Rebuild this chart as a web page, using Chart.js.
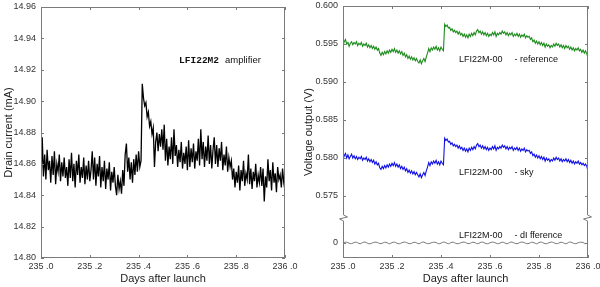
<!DOCTYPE html>
<html>
<head>
<meta charset="utf-8">
<script src="https://cdn.jsdelivr.net/npm/chart.js@4.4.0/dist/chart.umd.min.js"></script>
<style>
  html, body { margin: 0; padding: 0; background: #fff; }
  #wrap { display: flex; width: 600px; height: 287px; }
  .box { position: relative; width: 300px; height: 287px; }
</style>
</head>
<body>
<div id="wrap">
  <div class="box"><canvas id="left" width="300" height="287"></canvas></div>
  <div class="box"><canvas id="right" width="300" height="287"></canvas></div>
</div>
<script>
// sampling of the time axis (days after launch)
const dayStart = 235.0
const dayStep = 0.005
const diffStep = 0.01

// left panel: drain current, mA
const drainCurrent = [
  14.846, 14.877, 14.852, 14.866, 14.850, 14.869, 14.856, 14.862, 14.848, 14.865, 14.853, 14.868, 14.847, 14.860, 14.855, 14.866, 14.849, 14.861, 14.852, 14.864, 14.851,
  14.858, 14.846, 14.863, 14.851, 14.867, 14.849, 14.860, 14.845, 14.862, 14.853, 14.866, 14.848, 14.858, 14.851, 14.864, 14.847, 14.859, 14.850, 14.862, 14.849,
  14.856, 14.868, 14.850, 14.864, 14.846, 14.860, 14.852, 14.865, 14.845, 14.858, 14.849, 14.862, 14.844, 14.857, 14.850, 14.861, 14.843, 14.855, 14.848, 14.858,
  14.846, 14.840, 14.853, 14.844, 14.849, 14.841, 14.856, 14.846, 14.866, 14.873, 14.855, 14.864, 14.850, 14.861, 14.848, 14.863, 14.853, 14.866, 14.855, 14.868,
  14.858, 14.862, 14.911, 14.902, 14.897, 14.899, 14.890, 14.893, 14.884, 14.887, 14.879, 14.883, 14.858, 14.874, 14.880, 14.868, 14.879, 14.871, 14.882, 14.869,
  14.885, 14.862, 14.876, 14.859, 14.871, 14.863, 14.877, 14.860, 14.882, 14.865, 14.872, 14.858, 14.869, 14.861, 14.874, 14.857, 14.867, 14.860, 14.871, 14.856,
  14.875, 14.858, 14.870, 14.861, 14.873, 14.857, 14.868, 14.862, 14.876, 14.859, 14.882, 14.863, 14.874, 14.858, 14.871, 14.862, 14.878, 14.860, 14.872, 14.857,
  14.869, 14.877, 14.860, 14.872, 14.858, 14.870, 14.862, 14.874, 14.856, 14.866, 14.859, 14.871, 14.855, 14.864, 14.858, 14.862, 14.850, 14.857, 14.845, 14.855,
  14.848, 14.859, 14.843, 14.856, 14.849, 14.862, 14.846, 14.854, 14.850, 14.866, 14.847, 14.857, 14.844, 14.855, 14.849, 14.860, 14.845, 14.853, 14.848, 14.858,
  14.846, 14.857, 14.836, 14.852, 14.845, 14.863, 14.849, 14.856, 14.843, 14.861, 14.848, 14.854, 14.842, 14.858, 14.850, 14.853, 14.845, 14.857, 14.848, 14.843
]

// right panel: voltage output, V
const referenceVolts = [
  0.5948, 0.5953, 0.5956, 0.5950, 0.5952, 0.5947, 0.5951, 0.5953, 0.5949, 0.5952, 0.5950, 0.5953, 0.5948, 0.5951, 0.5949, 0.5952, 0.5947, 0.5950, 0.5948, 0.5951, 0.5946,
  0.5949, 0.5945, 0.5948, 0.5944, 0.5947, 0.5943, 0.5946, 0.5942, 0.5944, 0.5938, 0.5935, 0.5939, 0.5936, 0.5940, 0.5937, 0.5941, 0.5938, 0.5942, 0.5939, 0.5943,
  0.5940, 0.5944, 0.5939, 0.5942, 0.5938, 0.5941, 0.5937, 0.5940, 0.5935, 0.5938, 0.5933, 0.5936, 0.5931, 0.5934, 0.5930, 0.5933, 0.5929, 0.5932, 0.5928, 0.5931,
  0.5927, 0.5925, 0.5929, 0.5924, 0.5928, 0.5931, 0.5927, 0.5933, 0.5938, 0.5944, 0.5940, 0.5945, 0.5942, 0.5946, 0.5943, 0.5947, 0.5942, 0.5945, 0.5941, 0.5946,
  0.5943, 0.5941, 0.5976, 0.5973, 0.5975, 0.5971, 0.5972, 0.5968, 0.5970, 0.5966, 0.5968, 0.5965, 0.5967, 0.5963, 0.5966, 0.5962, 0.5964, 0.5960, 0.5963, 0.5959,
  0.5962, 0.5958, 0.5963, 0.5960, 0.5964, 0.5961, 0.5965, 0.5962, 0.5967, 0.5969, 0.5965, 0.5967, 0.5963, 0.5966, 0.5962, 0.5965, 0.5961, 0.5964, 0.5960, 0.5963,
  0.5961, 0.5965, 0.5962, 0.5966, 0.5960, 0.5964, 0.5962, 0.5965, 0.5963, 0.5967, 0.5964, 0.5966, 0.5962, 0.5965, 0.5961, 0.5964, 0.5962, 0.5965, 0.5960, 0.5963,
  0.5961, 0.5964, 0.5960, 0.5963, 0.5959, 0.5962, 0.5960, 0.5963, 0.5958, 0.5961, 0.5959, 0.5960, 0.5956, 0.5958, 0.5953, 0.5955, 0.5951, 0.5954, 0.5950, 0.5953,
  0.5949, 0.5952, 0.5948, 0.5951, 0.5946, 0.5950, 0.5947, 0.5949, 0.5945, 0.5948, 0.5946, 0.5950, 0.5947, 0.5951, 0.5948, 0.5950, 0.5946, 0.5949, 0.5945, 0.5948,
  0.5944, 0.5948, 0.5945, 0.5947, 0.5943, 0.5946, 0.5942, 0.5945, 0.5941, 0.5944, 0.5942, 0.5945, 0.5941, 0.5943, 0.5939, 0.5942, 0.5938, 0.5941, 0.5937, 0.5932
]

const skyVolts = [
  0.5798, 0.5803, 0.5806, 0.5800, 0.5804, 0.5799, 0.5802, 0.5805, 0.5800, 0.5803, 0.5799, 0.5802, 0.5798, 0.5801, 0.5799, 0.5802, 0.5797, 0.5800, 0.5798, 0.5801, 0.5796,
  0.5799, 0.5795, 0.5798, 0.5794, 0.5797, 0.5792, 0.5795, 0.5791, 0.5793, 0.5787, 0.5785, 0.5789, 0.5786, 0.5790, 0.5787, 0.5791, 0.5788, 0.5792, 0.5789, 0.5793,
  0.5790, 0.5794, 0.5789, 0.5792, 0.5788, 0.5791, 0.5786, 0.5789, 0.5785, 0.5788, 0.5783, 0.5786, 0.5781, 0.5784, 0.5780, 0.5783, 0.5779, 0.5782, 0.5778, 0.5781,
  0.5778, 0.5775, 0.5779, 0.5774, 0.5778, 0.5781, 0.5777, 0.5783, 0.5788, 0.5794, 0.5790, 0.5795, 0.5792, 0.5796, 0.5793, 0.5797, 0.5792, 0.5795, 0.5791, 0.5796,
  0.5793, 0.5791, 0.5826, 0.5823, 0.5825, 0.5821, 0.5822, 0.5818, 0.5820, 0.5816, 0.5818, 0.5815, 0.5817, 0.5813, 0.5816, 0.5812, 0.5814, 0.5810, 0.5813, 0.5809,
  0.5812, 0.5808, 0.5813, 0.5810, 0.5814, 0.5811, 0.5815, 0.5812, 0.5817, 0.5819, 0.5815, 0.5817, 0.5813, 0.5816, 0.5812, 0.5815, 0.5811, 0.5814, 0.5810, 0.5813,
  0.5811, 0.5815, 0.5812, 0.5816, 0.5810, 0.5814, 0.5812, 0.5815, 0.5813, 0.5817, 0.5814, 0.5816, 0.5812, 0.5815, 0.5811, 0.5814, 0.5812, 0.5815, 0.5810, 0.5813,
  0.5811, 0.5814, 0.5810, 0.5813, 0.5809, 0.5812, 0.5810, 0.5813, 0.5808, 0.5811, 0.5809, 0.5810, 0.5806, 0.5808, 0.5803, 0.5805, 0.5801, 0.5804, 0.5800, 0.5803,
  0.5799, 0.5802, 0.5798, 0.5801, 0.5796, 0.5800, 0.5797, 0.5799, 0.5795, 0.5798, 0.5796, 0.5800, 0.5797, 0.5801, 0.5798, 0.5800, 0.5796, 0.5799, 0.5795, 0.5798,
  0.5796, 0.5799, 0.5795, 0.5798, 0.5794, 0.5797, 0.5793, 0.5796, 0.5792, 0.5795, 0.5793, 0.5796, 0.5792, 0.5794, 0.5791, 0.5793, 0.5790, 0.5792, 0.5789, 0.5783
]

// difference (reference - sky), shown around its own zero below the axis break
const diffVolts = [
  0.00000, 0.00010, 0.00004, -0.00009, -0.00003, 0.00011, 0.00002, -0.00010, 0.00005, 0.00012, -0.00004, -0.00011, 0.00001, 0.00010, 0.00006, -0.00008, -0.00004, 0.00009, 0.00003, -0.00011,
  0.00004, 0.00011, -0.00003, -0.00010, 0.00002, 0.00012, 0.00004, -0.00009, -0.00005, 0.00010, 0.00001, -0.00011, 0.00006, 0.00011, -0.00004, -0.00009, 0.00002, 0.00010, 0.00005, -0.00010,
  -0.00003, 0.00012, 0.00003, -0.00011, 0.00004, 0.00010, -0.00005, -0.00010, 0.00001, 0.00011, 0.00006, -0.00009, -0.00003, 0.00010, 0.00002, -0.00011, 0.00005, 0.00012, -0.00004, -0.00010,
  0.00002, 0.00011, 0.00004, -0.00009, -0.00004, 0.00010, 0.00001, -0.00011, 0.00006, 0.00011, -0.00003, -0.00010, 0.00003, 0.00012, 0.00004, -0.00009, -0.00005, 0.00010, 0.00002, -0.00011,
  0.00005, 0.00011, -0.00004, -0.00010, 0.00002, 0.00012, 0.00004, -0.00009, -0.00003, 0.00010, 0.00001, -0.00011, 0.00006, 0.00011, -0.00004, -0.00009, 0.00003, 0.00010, 0.00005, -0.00010, 0.00002
]

const currentTicks = [14.80, 14.82, 14.84, 14.86, 14.88, 14.90, 14.92, 14.94, 14.96]
const voltTicks = [0.575, 0.580, 0.585, 0.590, 0.595, 0.600]
const dayTicks = [235.0, 235.2, 235.4, 235.6, 235.8, 236.0]

// where the "0" of the difference trace sits on the broken voltage axis
const diffZero = 0.56882
const voltAxisMin = 0.56684
const breakAt = 0.57211

const toPoints = (vals, step) => vals.map((v, i) => ({ x: dayStart + i * step, y: v }))

const tickFont = { family: "Liberation Sans, Arial, sans-serif", size: 9 }
const titleFont = { family: "Liberation Sans, Arial, sans-serif", size: 11 }
const noteFont = "9px 'Liberation Sans', Arial, sans-serif"
const dayLabel = (v) => v.toFixed(1).replace(".", " .")

// gnuplot-like box with inward ticks on all four sides
const framePlugin = {
  id: "frame",
  afterDatasetsDraw(chart) {
    const { ctx, chartArea: a, scales } = chart
    const x = scales.x, y = scales.y
    ctx.save()
    ctx.strokeStyle = "#7a7a7a"
    ctx.lineWidth = 1
    ctx.strokeRect(a.left + 0.5, a.top + 0.5, a.right - a.left - 1, a.bottom - a.top - 1)
    const len = 3
    ctx.beginPath()
    x.ticks.forEach(t => {
      const px = Math.round(x.getPixelForValue(t.value)) + 0.5
      ctx.moveTo(px, a.bottom); ctx.lineTo(px, a.bottom - len)
      ctx.moveTo(px, a.top); ctx.lineTo(px, a.top + len)
    })
    y.ticks.forEach(t => {
      const py = Math.round(y.getPixelForValue(t.value)) + 0.5
      ctx.moveTo(a.left, py); ctx.lineTo(a.left + len, py)
      ctx.moveTo(a.right, py); ctx.lineTo(a.right - len, py)
    })
    ctx.stroke()

    const o = chart.options.plugins.frame || {}
    if (o.breakValue !== undefined) {
      const by = y.getPixelForValue(o.breakValue)
      ;[a.left + 0.5, a.right - 0.5].forEach(bx => {
        ctx.fillStyle = "#fff"
        ctx.fillRect(bx - 5, by - 5, 10, 10)
        ctx.beginPath()
        ctx.moveTo(bx, by - 7)
        ctx.lineTo(bx, by - 3)
        ctx.lineTo(bx + 4, by - 1)
        ctx.lineTo(bx - 4, by + 1)
        ctx.lineTo(bx, by + 3)
        ctx.lineTo(bx, by + 7)
        ctx.stroke()
      })
    }
    ctx.restore()
  }
}

// text labels placed in data coordinates
const notesPlugin = {
  id: "notes",
  afterDatasetsDraw(chart) {
    const o = chart.options.plugins.notes
    if (!o || !o.items) return
    const { ctx, scales: { x, y } } = chart
    ctx.save()
    ctx.textBaseline = "middle"
    o.items.forEach(it => {
      let px = x.getPixelForValue(it.day)
      const py = y.getPixelForValue(it.value)
      it.parts.forEach(p => {
        ctx.font = p.font
        ctx.fillStyle = "#111"
        ctx.fillText(p.text, px + (p.dx || 0), py)
        px += (p.dx || 0) + ctx.measureText(p.text).width
      })
    })
    ctx.restore()
  }
}

const xScale = () => ({
  type: "linear",
  min: 235.0,
  max: 236.0,
  afterBuildTicks: (s) => { s.ticks = dayTicks.map(v => ({ value: v })) },
  afterFit: (s) => { s.height = 29; s.paddingLeft = 0; s.paddingRight = 0 },
  grid: { display: false, drawTicks: false },
  border: { display: false },
  ticks: { callback: dayLabel, font: tickFont, color: "#333", padding: 3, maxRotation: 0 },
  title: { display: true, text: "Days after launch", font: titleFont, color: "#222", padding: { top: 0, bottom: 1 } }
})

new Chart(document.getElementById("left").getContext("2d"), {
  type: "line",
  data: {
    datasets: [{
      data: toPoints(drainCurrent, dayStep),
      borderColor: "#000",
      borderWidth: 1.3,
      pointRadius: 0,
      tension: 0
    }]
  },
  options: {
    responsive: false,
    animation: false,
    layout: { padding: { top: 7, right: 15, left: 0, bottom: 0 } },
    plugins: {
      legend: { display: false },
      tooltip: { enabled: false },
      notes: {
        items: [{
          day: 235.566, value: 14.926,
          parts: [
            { text: "LFI22M2", font: "bold 9.5px 'Liberation Mono', 'Courier New', monospace" },
            { text: "amplifier", font: "9.5px 'Liberation Sans', Arial, sans-serif", dx: 6 }
          ]
        }]
      }
    },
    scales: {
      x: xScale(),
      y: {
        type: "linear",
        min: 14.80,
        max: 14.96,
        afterBuildTicks: (s) => { s.ticks = currentTicks.map(v => ({ value: v })) },
        afterFit: (s) => { s.width = 41; s.paddingTop = 0; s.paddingBottom = 0 },
        grid: { display: false, drawTicks: false },
        border: { display: false },
        ticks: { callback: (v) => v.toFixed(2), font: tickFont, color: "#333", padding: 5 },
        title: { display: true, text: "Drain current (mA)", font: titleFont, color: "#222", padding: { top: 2, bottom: 0 } }
      }
    }
  },
  plugins: [framePlugin, notesPlugin]
})

new Chart(document.getElementById("right").getContext("2d"), {
  type: "line",
  data: {
    datasets: [
      { data: toPoints(referenceVolts, dayStep), borderColor: "#1c8c1c", borderWidth: 1.1, pointRadius: 0, tension: 0 },
      { data: toPoints(skyVolts, dayStep), borderColor: "#1010e6", borderWidth: 1.1, pointRadius: 0, tension: 0 },
      { data: toPoints(diffVolts, diffStep).map(p => ({ x: p.x, y: diffZero + p.y })), borderColor: "#555", borderWidth: 0.8, pointRadius: 0, tension: 0.4 }
    ]
  },
  options: {
    responsive: false,
    animation: false,
    layout: { padding: { top: 6, right: 12, left: 0, bottom: 0 } },
    plugins: {
      legend: { display: false },
      tooltip: { enabled: false },
      frame: { breakValue: breakAt },
      notes: {
        items: [
          { day: 235.473, value: 0.5929, parts: [
            { text: "LFI22M-00", font: noteFont },
            { text: "- reference", font: noteFont, dx: 12 } ] },
          { day: 235.473, value: 0.5781, parts: [
            { text: "LFI22M-00", font: noteFont },
            { text: "- sky", font: noteFont, dx: 12 } ] },
          { day: 235.473, value: 0.56980, parts: [
            { text: "LFI22M-00", font: noteFont },
            { text: "- dI fference", font: noteFont, dx: 12 } ] }
        ]
      }
    },
    scales: {
      x: xScale(),
      y: {
        type: "linear",
        min: voltAxisMin,
        max: 0.600,
        afterBuildTicks: (s) => { s.ticks = [diffZero].concat(voltTicks).map(v => ({ value: v })) },
        afterFit: (s) => { s.width = 43; s.paddingTop = 0; s.paddingBottom = 0 },
        grid: { display: false, drawTicks: false },
        border: { display: false },
        ticks: {
          callback: (v) => Math.abs(v - diffZero) < 1e-6 ? "0" : v.toFixed(3),
          font: tickFont, color: "#333", padding: 5
        },
        title: { display: true, text: "Voltage output (V)", font: titleFont, color: "#222", padding: { top: 2, bottom: 0 } }
      }
    }
  },
  plugins: [framePlugin, notesPlugin]
})
</script>
</body>
</html>
